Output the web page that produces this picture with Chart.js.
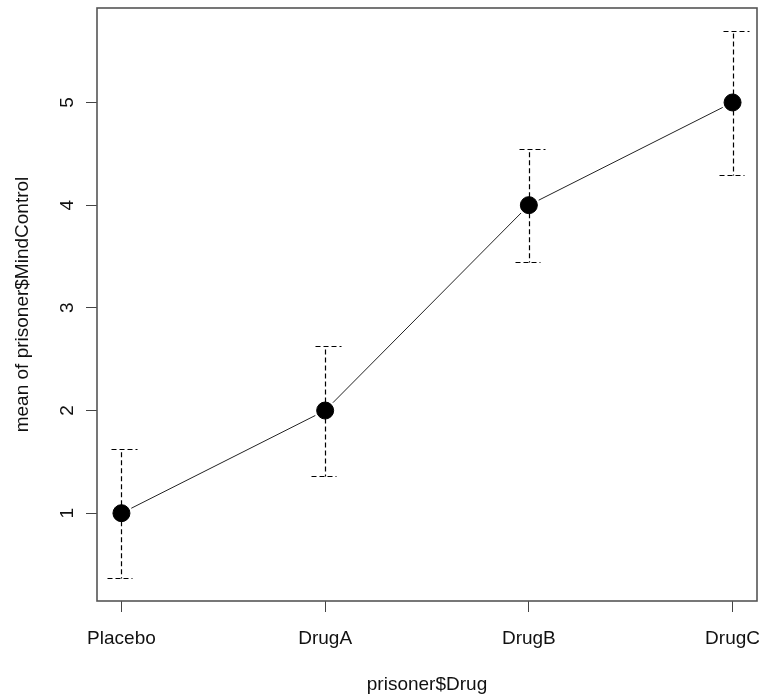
<!DOCTYPE html>
<html>
<head>
<meta charset="utf-8">
<script src="https://cdn.jsdelivr.net/npm/chart.js@4.4.1/dist/chart.umd.min.js"></script>
<style>
  html, body { margin: 0; padding: 0; background: #fff; }
  canvas { display: block; }
</style>
</head>
<body>
<canvas id="c" width="759" height="697"></canvas>
<script>
// ---- data ----
const categories = ["Placebo", "DrugA", "DrugB", "DrugC"];
const means = [1, 2, 4, 5];
const lower = [0.37, 1.36, 3.45, 4.29];
const upper = [1.63, 2.63, 4.55, 5.70];
const yTicks = [1, 2, 3, 4, 5];
const xTitle = "prisoner$Drug";
const yTitle = "mean of prisoner$MindControl";

const FONT = "'Liberation Sans', Arial, sans-serif";
const INK = "#111";
const noPad = () => ({ left: 0, top: 0, right: 0, bottom: 0 });

const overlay = {
  id: 'overlay',
  beforeDatasetsDraw(chart) {
    const ctx = chart.ctx;
    const xs = chart.scales.x, ys = chart.scales.y;
    ctx.save();
    // connecting line segments with gaps around points (R type="b")
    ctx.strokeStyle = "#222";
    ctx.lineWidth = 1;
    const gap = 11;
    for (let i = 0; i < means.length - 1; i++) {
      const x0 = xs.getPixelForValue(i), y0 = ys.getPixelForValue(means[i]);
      const x1 = xs.getPixelForValue(i + 1), y1 = ys.getPixelForValue(means[i + 1]);
      const dx = x1 - x0, dy = y1 - y0, L = Math.hypot(dx, dy);
      const ux = dx / L, uy = dy / L;
      ctx.beginPath();
      ctx.moveTo(x0 + ux * gap, y0 + uy * gap);
      ctx.lineTo(x1 - ux * gap, y1 - uy * gap);
      ctx.stroke();
    }
    // dashed error bars with dashed caps
    ctx.setLineDash([5, 3]);
    ctx.strokeStyle = "#000";
    ctx.lineWidth = 1.2;
    for (let i = 0; i < means.length; i++) {
      const xp = Math.round(xs.getPixelForValue(i)) + 0.5;
      const yu = Math.round(ys.getPixelForValue(upper[i])) + 0.5;
      const yl = Math.round(ys.getPixelForValue(lower[i])) + 0.5;
      const ym = ys.getPixelForValue(means[i]);
      ctx.beginPath();
      ctx.moveTo(xp, ym); ctx.lineTo(xp, yu);
      ctx.stroke();
      ctx.beginPath();
      ctx.moveTo(xp, ym); ctx.lineTo(xp, yl);
      ctx.stroke();
      ctx.beginPath();
      ctx.moveTo(xp - 10, yu); ctx.lineTo(xp + 16, yu);
      ctx.stroke();
      ctx.beginPath();
      ctx.moveTo(xp - 14, yl); ctx.lineTo(xp + 11, yl);
      ctx.stroke();
    }
    ctx.restore();
  },
  afterDraw(chart) {
    const ctx = chart.ctx, a = chart.chartArea;
    ctx.save();
    ctx.strokeStyle = "#555";
    ctx.lineWidth = 1.6;
    ctx.strokeRect(a.left, a.top, a.right - a.left, a.bottom - a.top);
    ctx.restore();
  }
};

new Chart(document.getElementById('c'), {
  type: 'scatter',
  data: {
    datasets: [{
      data: means.map((m, i) => ({ x: i, y: m })),
      backgroundColor: "#000",
      borderColor: "#000",
      pointRadius: 8.5,
      pointHoverRadius: 8.5,
      showLine: false
    }]
  },
  options: {
    responsive: false,
    animation: false,
    events: [],
    layout: { autoPadding: false, padding: { left: 0, right: 2, top: 8, bottom: 0 } },
    plugins: { legend: { display: false }, tooltip: { enabled: false } },
    scales: {
      x: {
        type: 'linear',
        min: -0.12,
        max: 3.12,
        afterBuildTicks: s => { s.ticks = categories.map((c, i) => ({ value: i })); },
        afterFit: s => { s.height = 96; s.paddingLeft = 0; s.paddingRight = 0; s.getPadding = noPad; },
        border: { display: false },
        grid: { drawOnChartArea: false, drawTicks: true, tickLength: 11, color: "#444", tickWidth: 1 },
        ticks: {
          padding: 15,
          maxRotation: 0, minRotation: 0,
          autoSkip: false,
          color: INK,
          font: { family: FONT, size: 19 },
          callback: v => categories[Math.round(v)]
        },
        title: {
          display: true, text: xTitle, color: INK,
          font: { family: FONT, size: 19 },
          padding: { top: 0, bottom: 1 }
        }
      },
      y: {
        type: 'linear',
        min: 0.145,
        max: 5.92,
        afterBuildTicks: s => { s.ticks = yTicks.map(v => ({ value: v })); },
        afterFit: s => { s.width = 97; s.paddingTop = 0; s.paddingBottom = 0; s.getPadding = noPad; },
        border: { display: false },
        grid: { drawOnChartArea: false, drawTicks: true, tickLength: 11, color: "#444", tickWidth: 1 },
        ticks: {
          padding: 12.5,
          minRotation: 90, maxRotation: 90,
          crossAlign: 'center',
          autoSkip: false,
          color: INK,
          font: { family: FONT, size: 19 },
          callback: v => String(v)
        },
        title: {
          display: true, text: yTitle, color: INK,
          font: { family: FONT, size: 19 },
          padding: { top: 11, bottom: 0 }
        }
      }
    }
  },
  plugins: [overlay]
});
</script>
</body>
</html>
